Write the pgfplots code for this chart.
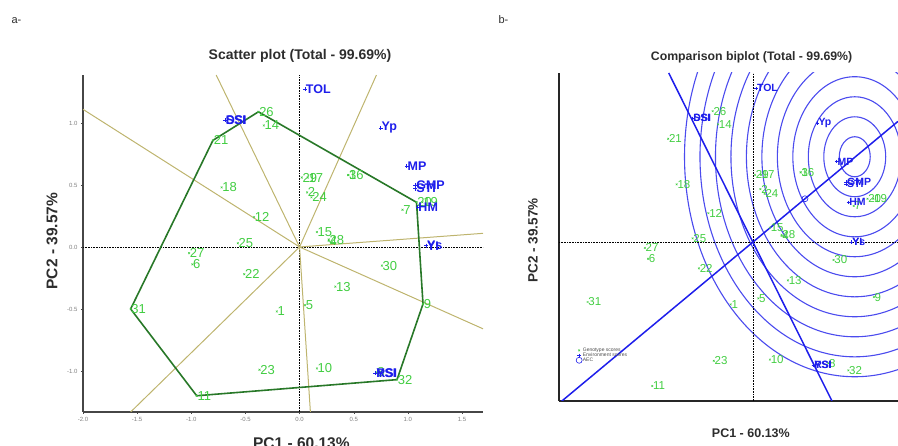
\documentclass[border=0pt]{standalone}
\usepackage{pgfplots}
\pgfplotsset{compat=1.18}
\usepackage{pgfplotstable}
\usepackage{fontspec}
\setmainfont{Liberation Sans}
\definecolor{gcol}{RGB}{65,205,65}
\definecolor{bcol}{RGB}{30,30,235}
\definecolor{polycol}{RGB}{40,120,40}
\definecolor{raycol}{RGB}{190,180,110}
\definecolor{ringcol}{RGB}{75,75,238}
\definecolor{axgray}{RGB}{70,70,70}
\definecolor{txtgray}{RGB}{45,45,45}

\pgfplotstableread{
x y lab
-0.21 -0.52 1
0.07 0.44 2
0.45 0.58 3
0.27 0.05 4
0.05 -0.47 5
-0.99 -0.14 6
0.95 0.30 7
0.71 -1.01 8
1.14 -0.46 9
0.16 -0.98 10
-0.95 -1.20 11
-0.42 0.24 12
0.33 -0.32 13
-0.33 0.98 14
0.16 0.12 15
0.45 0.58 16
0.075 0.56 17
-0.72 0.48 18
1.135 0.36 19
1.08 0.36 20
-0.80 0.86 21
-0.51 -0.22 22
-0.37 -0.99 23
0.11 0.40 24
-0.57 0.03 25
-0.38 1.09 26
-1.02 -0.05 27
0.27 0.06 28
0.02 0.56 29
0.76 -0.15 30
-1.56 -0.50 31
0.90 -1.07 32
}\geno

\pgfplotstableread{
x y lab
0.05 1.27 TOL
-0.69 1.02 SSI
-0.69 1.02 DSI
0.75 0.96 Yp
0.99 0.65 MP
1.07 0.50 GMP
1.07 0.47 STI
1.09 0.32 HM
1.17 0.01 Ys
1.17 0.01 YI
0.70 -1.02 RSI
0.70 -1.02 YSI
}\enva

\pgfplotstableread{
x y lab
0.03 1.28 TOL
-0.57 1.03 SSI
-0.57 1.03 DSI
0.61 0.99 Yp
0.79 0.67 MP
0.88 0.50 GMP
0.88 0.48 STI
0.90 0.33 HM
0.93 0.00 Ys
0.93 0.00 YI
0.57 -1.025 RSI
0.57 -1.025 YSI
}\envb

\begin{document}
\begin{tikzpicture}[x=1pt,y=1pt]
\useasboundingbox (0,0) rectangle (898,446);
\clip (0,0) rectangle (898,446);
\node[anchor=base west, font=\fontsize{11}{13}\selectfont, text=txtgray] at (8,422) {a-};
\node[anchor=base west, font=\fontsize{11}{13}\selectfont, text=txtgray] at (495,422) {b-};

% ---------------- panel a ----------------
\begin{axis}[
  at={(83pt,34pt)}, anchor=south west, scale only axis,
  width=400pt, height=337pt,
  xmin=-2.0, xmax=1.694, ymin=-1.331, ymax=1.387,
  axis lines*=left,
  axis line style={line width=2.4pt, axgray},
  xtick={-2,-1.5,-1,-0.5,0,0.5,1,1.5},
  xticklabels={-2.0,-1.5,-1.0,-0.5,0.0,0.5,1.0,1.5},
  ytick={-1,-0.5,0,0.5,1},
  yticklabels={-1.0,-0.5,0.0,0.5,1.0},
  tick align=outside, major tick length=2pt,
  tick style={axgray, line width=0.4pt},
  ticklabel style={font=\fontsize{6}{7}\selectfont, text=gray},
  title={Scatter plot (Total - 99.69\%)},
  title style={at={(axis description cs:0.5425,1.0267)}, anchor=base,
    font=\bfseries\fontsize{14}{16}\selectfont, text=txtgray},
  xlabel={PC1 - 60.13\%},
  xlabel style={at={(axis description cs:0.546,-0.107)}, anchor=base,
    font=\bfseries\fontsize{15.5}{18}\selectfont, text=txtgray},
  ylabel={PC2 - 39.57\%},
  ylabel style={at={(axis description cs:-0.0775,0.507)}, anchor=center,
    font=\bfseries\fontsize{15.5}{18}\selectfont, text=txtgray},
]
\addplot[densely dotted, black, line width=0.6pt, forget plot] coordinates {(-2,0) (1.694,0)};
\addplot[densely dotted, black, line width=0.6pt, forget plot] coordinates {(0,-1.331) (0,1.387)};
% rays
\addplot[raycol, line width=1pt, forget plot] coordinates {(0,0) (-2.0,1.11)};
\addplot[raycol, line width=1pt, forget plot] coordinates {(0,0) (-0.77,1.387)};
\addplot[raycol, line width=1pt, forget plot] coordinates {(0,0) (0.71,1.387)};
\addplot[raycol, line width=1pt, forget plot] coordinates {(0,0) (1.694,0.11)};
\addplot[raycol, line width=1pt, forget plot] coordinates {(0,0) (1.694,-0.66)};
\addplot[raycol, line width=1pt, forget plot] coordinates {(0,0) (0.10,-1.331)};
\addplot[raycol, line width=1pt, forget plot] coordinates {(0,0) (-1.56,-1.331)};
% polygon
\addplot[polycol, line width=1.6pt, forget plot] coordinates {
  (-1.56,-0.50) (-0.80,0.86) (-0.38,1.09) (1.08,0.36) (1.14,-0.46) (0.90,-1.07) (-0.95,-1.20) (-1.56,-0.50)};
% genotypes
\addplot[only marks, mark=x, mark size=1.3pt, mark options={gcol, line width=0.5pt},
  point meta=explicit symbolic, nodes near coords,
  nodes near coords style={anchor=west, inner sep=0.6pt, text=gcol, font=\fontsize{13}{15}\selectfont}]
  table[x=x, y=y, meta=lab] {\geno};
% environments
\addplot[only marks, mark=+, mark size=2pt, mark options={bcol, line width=0.6pt},
  point meta=explicit symbolic, nodes near coords,
  nodes near coords style={anchor=west, inner sep=0.6pt, text=bcol, font=\bfseries\fontsize{12.5}{14}\selectfont}]
  table[x=x, y=y, meta=lab] {\enva};
\end{axis}

% ---------------- panel b ----------------
\begin{axis}[
  at={(559pt,45pt)}, anchor=south west, scale only axis,
  width=339pt, height=328pt,
  xmin=-1.830, xmax=1.368, ymin=-1.325, ymax=1.408,
  axis lines*=left,
  axis line style={line width=2pt, black!85},
  xtick=\empty, ytick=\empty,
  title={Comparison biplot (Total - 99.69\%)},
  title style={at={(axis description cs:0.568,1.021)}, anchor=base,
    font=\bfseries\fontsize{12.3}{14}\selectfont, text=txtgray},
  xlabel={PC1 - 60.13\%},
  xlabel style={at={(axis description cs:0.566,-0.110)}, anchor=base,
    font=\bfseries\fontsize{12.5}{14}\selectfont, text=txtgray},
  ylabel={PC2 - 39.57\%},
  ylabel style={at={(axis description cs:-0.077,0.49)}, anchor=center,
    font=\bfseries\fontsize{13.5}{15}\selectfont, text=txtgray},
  legend style={at={(axis cs:-1.67,-0.875)}, anchor=north west, draw=none, fill=none,
    font=\fontsize{5}{6}\selectfont, text=gray!60!black, row sep=-1.5pt,
    inner sep=0pt, nodes={inner sep=0.7pt}},
  legend cell align=left,
]
\draw[ringcol, line width=1.1pt] (axis cs:0.96,0.71) ellipse [x radius=0.146, y radius=0.167];
\draw[ringcol, line width=1.1pt] (axis cs:0.96,0.71) ellipse [x radius=0.292, y radius=0.333];
\draw[ringcol, line width=1.1pt] (axis cs:0.96,0.71) ellipse [x radius=0.438, y radius=0.500];
\draw[ringcol, line width=1.1pt] (axis cs:0.96,0.71) ellipse [x radius=0.584, y radius=0.667];
\draw[ringcol, line width=1.1pt] (axis cs:0.96,0.71) ellipse [x radius=0.730, y radius=0.833];
\draw[ringcol, line width=1.1pt] (axis cs:0.96,0.71) ellipse [x radius=0.876, y radius=1.000];
\draw[ringcol, line width=1.1pt] (axis cs:0.96,0.71) ellipse [x radius=1.022, y radius=1.167];
\draw[ringcol, line width=1.1pt] (axis cs:0.96,0.71) ellipse [x radius=1.168, y radius=1.333];
\draw[ringcol, line width=1.1pt] (axis cs:0.96,0.71) ellipse [x radius=1.314, y radius=1.500];
\draw[ringcol, line width=1.1pt] (axis cs:0.96,0.71) ellipse [x radius=1.460, y radius=1.667];
\draw[ringcol, line width=1.1pt] (axis cs:0.96,0.71) ellipse [x radius=1.606, y radius=1.833];
\addplot[densely dotted, black, line width=0.6pt, forget plot] coordinates {(-1.83,0) (1.368,0)};
\addplot[densely dotted, black, line width=0.6pt, forget plot] coordinates {(0,-1.325) (0,1.408)};
\addplot[bcol, line width=1.5pt, forget plot] coordinates {(-1.83,-1.345) (1.368,1.005)};
\addplot[bcol, line width=1.5pt, forget plot] coordinates {(-0.795,1.408) (0.745,-1.325)};
\addplot[only marks, mark=x, mark size=1.2pt, mark options={gcol, line width=0.5pt},
  point meta=explicit symbolic, nodes near coords,
  nodes near coords style={anchor=west, inner sep=0.6pt, text=gcol, font=\fontsize{11.5}{13}\selectfont}]
  table[x=x, y=y, meta=lab] {\geno};
\addlegendentry{Genotype scores}
\addplot[only marks, mark=+, mark size=1.8pt, mark options={bcol, line width=0.6pt},
  point meta=explicit symbolic, nodes near coords,
  nodes near coords style={anchor=west, inner sep=0.6pt, text=bcol, font=\bfseries\fontsize{10.5}{12}\selectfont}]
  table[x=x, y=y, meta=lab] {\envb};
\addlegendentry{Environment scores}
\addplot[only marks, mark=o, mark size=3pt, mark options={bcol, line width=0.6pt}]
  coordinates {(0.49,0.36)};
\addlegendentry{AEC}
\end{axis}
\end{tikzpicture}
\end{document}
